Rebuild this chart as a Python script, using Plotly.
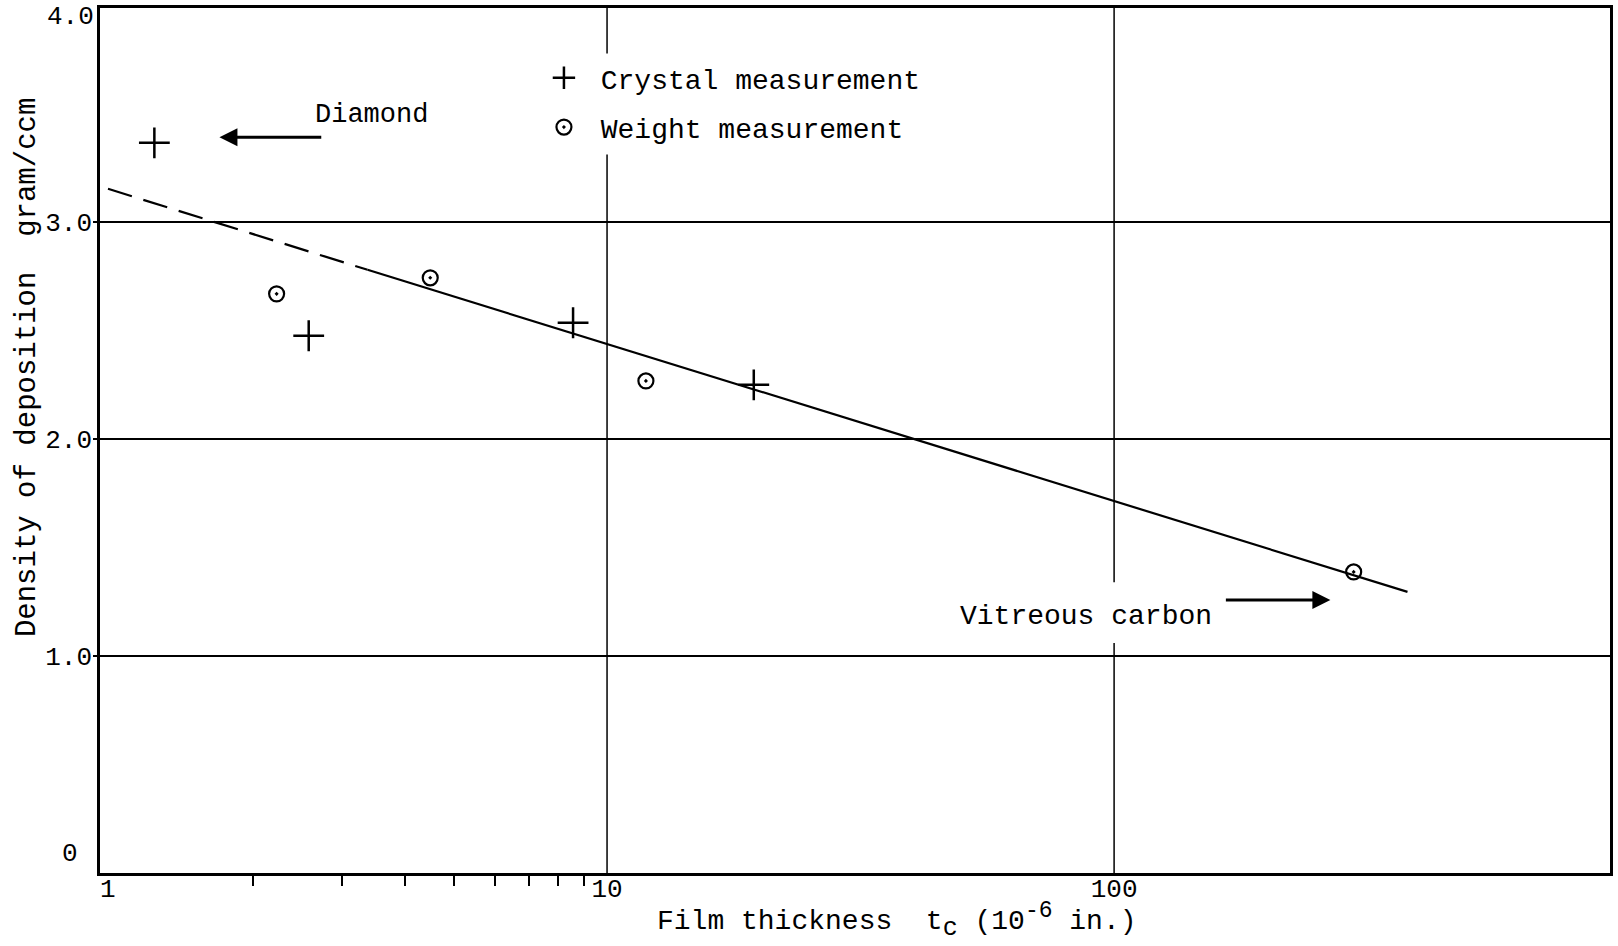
import math
import plotly.graph_objects as go

FONT = "Liberation Mono, Courier New, monospace"

# ---- data ----
crystal_x = [1.28, 2.58, 8.57, 19.47]
crystal_y = [3.364, 2.475, 2.535, 2.249]

weight_x = [2.23, 4.48, 11.93, 296.8]
weight_y = [2.668, 2.742, 2.267, 1.387]

fit_dash_x = [1.037, 3.37]
fit_dash_y = [3.152, 2.779]
fit_solid_x = [3.37, 379]
fit_solid_y = [2.779, 1.295]

x_tick_vals = [1, 10, 100]
x_tick_text = [" 1", "10", "100"]
x_minor_vals = [2, 3, 4, 5, 6, 7, 8, 9]
y_tick_vals = [1, 2, 3]
y_tick_text = ["1.0", "2.0", "3.0"]

# vertical grid lines (x value, list of (y_from, y_to) segments)
vgrid_x = [10, 100]
vgrid_segments = [[(0, 3.31), (3.775, 3.985)], [(0, 1.06), (1.34, 3.985)]]

# labels and arrows
diamond_label = "Diamond"
diamond_text_pos = (2.63, 3.49)
diamond_arrow = (2.75, 1.72, 3.39)      # tail x, head x, y
vitreous_label = "Vitreous carbon"
vitreous_text_pos = (49.3, 1.18)
vitreous_arrow = (165, 267, 1.258)       # tail x, head x, y

fig = go.Figure()

fig.add_trace(go.Scatter(
    x=fit_dash_x, y=fit_dash_y, mode="lines",
    line=dict(color="black", width=2.2, dash="25px,12px"),
    showlegend=False, hoverinfo="skip"))
fig.add_trace(go.Scatter(
    x=fit_solid_x, y=fit_solid_y, mode="lines",
    line=dict(color="black", width=2.2),
    showlegend=False, hoverinfo="skip"))

fig.add_trace(go.Scatter(
    x=crystal_x, y=crystal_y, mode="markers", name=" Crystal measurement",
    legendgroup="a",
    marker=dict(symbol="cross-thin-open", size=22, color="black",
                line=dict(color="black", width=2.5))))
fig.add_trace(go.Scatter(
    x=weight_x, y=weight_y, mode="markers", name=" Weight measurement",
    legendgroup="b",
    marker=dict(symbol="circle-open-dot", size=15, color="black",
                line=dict(color="black", width=2.2))))

shapes = []
for xv, segs in zip(vgrid_x, vgrid_segments):
    for y0, y1 in segs:
        shapes.append(dict(type="line", xref="x", yref="y",
                           x0=xv, x1=xv, y0=y0, y1=y1,
                           line=dict(color="black", width=1.5), layer="below"))

annotations = [
    dict(text=diamond_label, x=math.log10(diamond_text_pos[0]), y=diamond_text_pos[1],
         xref="x", yref="y", xanchor="left", yanchor="middle", showarrow=False,
         font=dict(family=FONT, size=27, color="black")),
    dict(text="", x=math.log10(diamond_arrow[1]), y=diamond_arrow[2],
         ax=math.log10(diamond_arrow[0]), ay=diamond_arrow[2],
         xref="x", yref="y", axref="x", ayref="y", showarrow=True,
         arrowhead=2, arrowsize=1.2, arrowwidth=3, arrowcolor="black"),
    dict(text=vitreous_label, x=math.log10(vitreous_text_pos[0]), y=vitreous_text_pos[1],
         xref="x", yref="y", xanchor="left", yanchor="middle", showarrow=False,
         font=dict(family=FONT, size=28, color="black")),
    dict(text="", x=math.log10(vitreous_arrow[1]), y=vitreous_arrow[2],
         ax=math.log10(vitreous_arrow[0]), ay=vitreous_arrow[2],
         xref="x", yref="y", axref="x", ayref="y", showarrow=True,
         arrowhead=2, arrowsize=1.2, arrowwidth=3, arrowcolor="black"),
    # extra y tick labels
    dict(text="0", x=0, y=0, xref="paper", yref="y", xanchor="right", yanchor="middle",
         xshift=-20, yshift=19, showarrow=False,
         font=dict(family=FONT, size=26, color="black")),
    dict(text="4.0", x=0, y=1, xref="paper", yref="paper", xanchor="right", yanchor="middle",
         xshift=-4, yshift=-9, showarrow=False,
         font=dict(family=FONT, size=26, color="black")),
    # axis titles
    dict(text="Density of deposition  gram/ccm", x=-0.0476, y=0.585,
         xref="paper", yref="paper", xanchor="center", yanchor="middle",
         textangle=-90, showarrow=False,
         font=dict(family=FONT, size=29, color="black")),
    dict(text=("Film thickness  t<sub><span style='font-size:25px'>c</span></sub>"
               " (10<sup><span style='font-size:23px'>-6</span></sup> in.)"),
         x=0.3675, y=0,
         xref="paper", yref="paper", xanchor="left", yanchor="middle",
         yshift=-47, showarrow=False,
         font=dict(family=FONT, size=28, color="black")),
]

fig.update_layout(
    width=1618, height=946,
    margin=dict(l=100, r=5, t=8, b=73),
    paper_bgcolor="white", plot_bgcolor="white",
    font=dict(family=FONT, size=26, color="black"),
    shapes=shapes, annotations=annotations,
    showlegend=True,
    legend=dict(x=0.294, y=0.948, xanchor="left", yanchor="top",
                bgcolor="rgba(0,0,0,0)", borderwidth=0,
                traceorder="grouped", tracegroupgap=10,
                font=dict(family=FONT, size=28, color="black")),
    xaxis=dict(type="log", range=[0, 2.978],
               tickvals=x_tick_vals, ticktext=x_tick_text, ticks="", ticklen=0,
               ticklabelstandoff=-10,
               showgrid=False, zeroline=False,
               showline=True, linecolor="black", linewidth=3, mirror=True,
               tickfont=dict(family=FONT, size=26, color="black"),
               minor=dict(tickvals=x_minor_vals, ticks="outside", ticklen=10,
                          tickwidth=2, tickcolor="black", showgrid=False)),
    yaxis=dict(range=[0, 3.985], tickvals=y_tick_vals, ticktext=y_tick_text,
               ticks="outside", ticklen=4, tickwidth=1.5, tickcolor="black",
               ticklabelstandoff=-4,
               showgrid=True, gridcolor="black", gridwidth=1.5, zeroline=False,
               showline=True, linecolor="black", linewidth=2.5, mirror=True,
               tickfont=dict(family=FONT, size=26, color="black")),
)

fig.write_html("out.html")
